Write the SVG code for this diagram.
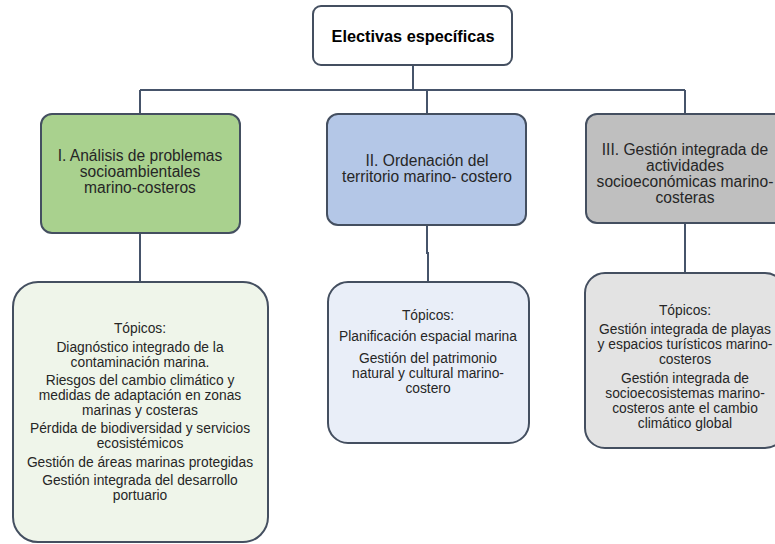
<svg xmlns="http://www.w3.org/2000/svg" width="775" height="544" viewBox="0 0 775 544">
<style>
.box{stroke:#444f60;stroke-width:2}
.ln{fill:none;stroke:#46546a;stroke-width:2}
text{font-family:"Liberation Sans",Arial,sans-serif;fill:#262626;text-anchor:middle}
.h{font-size:15.6px}
.t{font-size:13.8px}
.b{font-size:16.3px;font-weight:bold;fill:#000}
</style>
<rect width="775" height="544" fill="#ffffff"/>
<g id="connectors">
<path class="ln" d="M413 66 V90 M140 90 H685 M140 90 V114 M427 90 V114 M685 90 V114"/>
<path class="ln" d="M140 233 V282"/>
<path class="ln" d="M427 225 V253 H428 V282"/>
<path class="ln" d="M685 223 V273"/>
</g>
<g id="root">
<rect class="box" x="313" y="6" width="199" height="59" rx="8" fill="#ffffff"/>
<text class="b" x="413" y="42">Electivas específicas</text>
</g>
<g id="n1">
<rect class="box" x="41" y="114" width="199" height="119" rx="11" fill="#a9d18e"/>
<text class="h" x="140" y="161">I. Análisis de problemas</text>
<text class="h" x="140" y="177">socioambientales</text>
<text class="h" x="140" y="193">marino-costeros</text>
</g>
<g id="n2">
<rect class="box" x="327" y="114" width="199" height="111" rx="11" fill="#b4c7e7"/>
<text class="h" x="427" y="166">II. Ordenación del</text>
<text class="h" x="427" y="182">territorio marino- costero</text>
</g>
<g id="n3">
<rect class="box" x="586" y="114" width="199" height="109" rx="11" fill="#bfbfbf"/>
<text class="h" x="685" y="155">III. Gestión integrada de</text>
<text class="h" x="685" y="171">actividades</text>
<text class="h" x="685" y="187">socioeconómicas marino-</text>
<text class="h" x="685" y="203">costeras</text>
</g>
<g id="t1">
<rect class="box" x="13" y="282" width="255" height="260" rx="25" fill="#eff5ea"/>
<text class="t" x="140" y="333">Tópicos:</text>
<text class="t" x="140" y="352">Diagnóstico integrado de la</text>
<text class="t" x="140" y="367">contaminación marina.</text>
<text class="t" x="140" y="385">Riesgos del cambio climático y</text>
<text class="t" x="140" y="400">medidas de adaptación en zonas</text>
<text class="t" x="140" y="415">marinas y costeras</text>
<text class="t" x="140" y="433">Pérdida de biodiversidad y servicios</text>
<text class="t" x="140" y="448">ecosistémicos</text>
<text class="t" x="140" y="467">Gestión de áreas marinas protegidas</text>
<text class="t" x="140" y="485">Gestión integrada del desarrollo</text>
<text class="t" x="140" y="500">portuario</text>
</g>
<g id="t2">
<rect class="box" x="328" y="282" width="201" height="161" rx="20" fill="#e9eef8"/>
<text class="t" x="428" y="320">Tópicos:</text>
<text class="t" x="428" y="341">Planificación espacial marina</text>
<text class="t" x="428" y="363">Gestión del patrimonio</text>
<text class="t" x="428" y="378">natural y cultural marino-</text>
<text class="t" x="428" y="393">costero</text>
</g>
<g id="t3">
<rect class="box" x="585" y="273" width="200" height="175" rx="20" fill="#e3e3e3"/>
<text class="t" x="685" y="315">Tópicos:</text>
<text class="t" x="685" y="334">Gestión integrada de playas</text>
<text class="t" x="685" y="349">y espacios turísticos marino-</text>
<text class="t" x="685" y="364">costeros</text>
<text class="t" x="685" y="383">Gestión integrada  de</text>
<text class="t" x="685" y="398">socioecosistemas marino-</text>
<text class="t" x="685" y="413">costeros ante el cambio</text>
<text class="t" x="685" y="428">climático global</text>
</g>
</svg>
